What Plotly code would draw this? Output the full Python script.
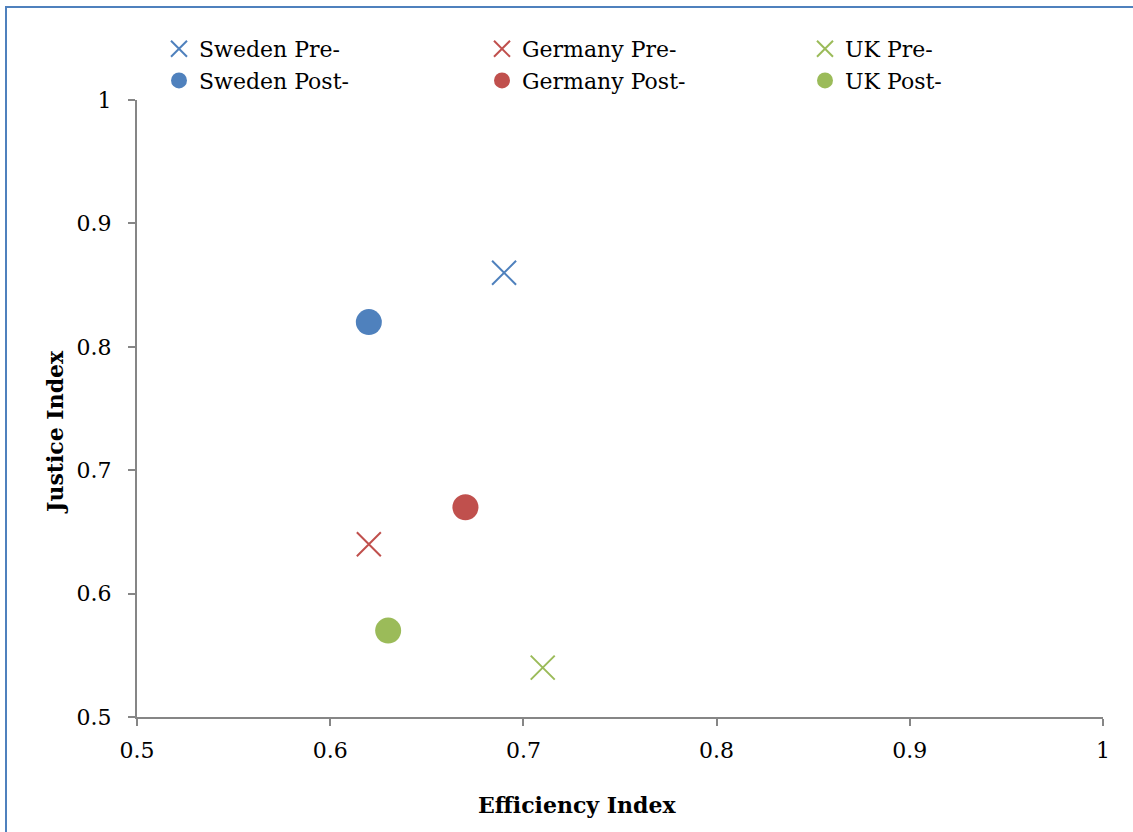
import plotly.graph_objects as go

# Data
countries = ["Sweden", "Germany", "UK"]
colors = ["#4F81BD", "#C0504D", "#9BBB59"]
pre_efficiency = [0.69, 0.62, 0.71]
pre_justice = [0.86, 0.64, 0.54]
post_efficiency = [0.62, 0.67, 0.63]
post_justice = [0.82, 0.67, 0.57]
tick_vals = [0.5, 0.6, 0.7, 0.8, 0.9, 1.0]
tick_text = ["0.5", "0.6", "0.7", "0.8", "0.9", "1"]

FONT = "DejaVu Serif"
FS = 22
W, H = 1133, 832
L, R, T, B = 137, 30, 100, 115

fig = go.Figure()
for i, c in enumerate(countries):
    fig.add_trace(go.Scatter(
        x=[pre_efficiency[i]], y=[pre_justice[i]], mode="markers",
        name=f"{c} Pre-",
        marker=dict(symbol="x-thin", size=24, line=dict(color=colors[i], width=2), color=colors[i]),
    ))
for i, c in enumerate(countries):
    fig.add_trace(go.Scatter(
        x=[post_efficiency[i]], y=[post_justice[i]], mode="markers",
        name=f"{c} Post-",
        marker=dict(symbol="circle", size=26, color=colors[i], line=dict(width=0)),
    ))

pw = W - L - R
ph = H - T - B

axis_common = dict(
    showgrid=False, zeroline=False, showline=True, linecolor="#868686", linewidth=2,
    ticks="outside", ticklen=7, tickwidth=2, tickcolor="#868686",
    tickfont=dict(family=FONT, size=FS, color="#000000"),
    range=[0.5, 1.0], tickvals=tick_vals, ticktext=tick_text, fixedrange=True,
)

fig.update_layout(
    width=W, height=H,
    margin=dict(l=L, r=R, t=T, b=B, autoexpand=False),
    paper_bgcolor="white", plot_bgcolor="white",
    font=dict(family=FONT, size=FS, color="#000000"),
    xaxis=dict(**axis_common, ticklabelstandoff=6),
    yaxis=dict(**axis_common, ticklabelstandoff=12),
    showlegend=True,
    legend=dict(
        orientation="h", x=(159 - L) / pw, xanchor="left",
        y=(H - B - 28) / ph, yanchor="top",
        entrywidth=278, font=dict(family=FONT, size=FS),
        bgcolor="rgba(0,0,0,0)", tracegroupgap=0, itemwidth=30,
    ),
    annotations=[
        dict(text="<b>Efficiency Index</b>", xref="paper", yref="paper",
             x=(577 - L) / pw, y=(H - B - 805) / ph, xanchor="center", yanchor="middle",
             showarrow=False, font=dict(family=FONT, size=FS)),
        dict(text="<b>Justice Index</b>", xref="paper", yref="paper",
             x=(55 - L) / pw, y=(H - B - 432) / ph, xanchor="center", yanchor="middle",
             textangle=-90, showarrow=False, font=dict(family=FONT, size=FS)),
    ],
    shapes=[
        dict(type="rect", xref="paper", yref="paper",
             x0=(6 - L) / pw, x1=(W + 10 - L) / pw,
             y0=(H - B - (H + 10)) / ph, y1=(H - B - 7) / ph,
             line=dict(color="#4F81BD", width=2), fillcolor="rgba(0,0,0,0)", layer="below"),
    ],
)

fig.write_html("out.html", config={"displayModeBar": False},
               post_script="document.body.style.margin='0';")
